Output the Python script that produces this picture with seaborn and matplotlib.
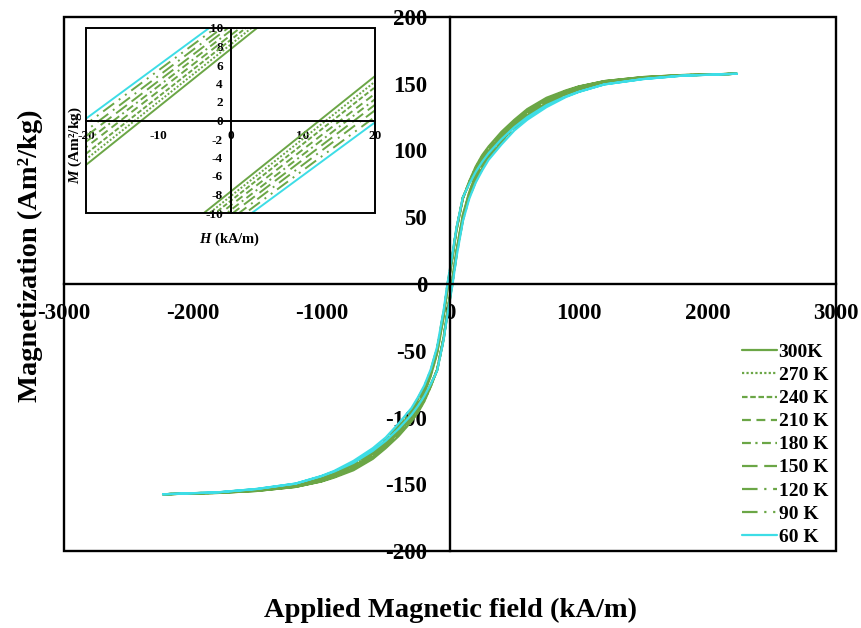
import numpy as np
import pandas as pd
import matplotlib
matplotlib.use("Agg")
import matplotlib.pyplot as plt
from matplotlib.patches import Rectangle
import seaborn as sns

# ---------------- data ----------------
temps = ["300K", "270 K", "240 K", "210 K", "180 K", "150 K", "120 K", "90 K", "60 K"]
H_pos = [0, 20, 50, 100, 150, 200, 250, 300, 400, 500, 600, 750, 900, 1000, 1200, 1500, 1800, 2230]

# descending (upper) branch, H >= 0
up_300 = [7.7, 20.2, 40.0, 64.0, 77.0, 88.0, 96.5, 103.0, 114.0, 123.0, 131.0, 139.5, 145.0, 148.0, 152.0, 155.0, 156.5, 157.5]
up_270 = [8.2, 20.6, 40.3, 64.1, 76.8, 87.5, 95.9, 102.4, 113.3, 122.3, 130.3, 138.8, 144.4, 147.5, 151.7, 154.8, 156.4, 157.5]
up_240 = [8.7, 21.0, 40.5, 64.3, 76.5, 87.0, 95.3, 101.8, 112.6, 121.6, 129.5, 138.1, 143.9, 147.0, 151.4, 154.6, 156.4, 157.5]
up_210 = [9.2, 21.3, 40.8, 64.4, 76.3, 86.5, 94.6, 101.1, 111.9, 120.9, 128.8, 137.4, 143.3, 146.5, 151.1, 154.4, 156.3, 157.5]
up_180 = [9.7, 21.7, 41.0, 64.5, 76.0, 86.0, 94.0, 100.5, 111.3, 120.3, 128.0, 136.8, 142.8, 146.0, 150.8, 154.3, 156.3, 157.5]
up_150 = [10.2, 22.1, 41.3, 64.6, 75.8, 85.5, 93.4, 99.9, 110.6, 119.6, 127.3, 136.1, 142.2, 145.5, 150.4, 154.1, 156.2, 157.5]
up_120 = [10.7, 22.5, 41.5, 64.8, 75.5, 85.0, 92.8, 99.3, 109.9, 118.9, 126.5, 135.4, 141.6, 145.0, 150.1, 153.9, 156.1, 157.5]
up_90 = [11.2, 22.8, 41.8, 64.9, 75.3, 84.5, 92.1, 98.6, 109.2, 118.2, 125.8, 134.7, 141.1, 144.5, 149.8, 153.7, 156.1, 157.5]
up_60 = [11.7, 23.2, 42.0, 65.0, 75.0, 84.0, 91.5, 98.0, 108.5, 117.5, 125.0, 134.0, 140.5, 144.0, 149.5, 153.5, 156.0, 157.5]

# ascending (lower) branch, H >= 0
lo_300 = [-7.7, 4.8, 25.0, 52.0, 69.0, 82.0, 91.5, 99.0, 111.0, 121.0, 129.5, 138.5, 144.5, 147.8, 152.0, 155.0, 156.5, 157.5]
lo_270 = [-8.2, 4.2, 24.4, 51.4, 68.4, 81.3, 90.7, 98.3, 110.2, 120.3, 128.7, 137.8, 143.9, 147.3, 151.7, 154.8, 156.4, 157.5]
lo_240 = [-8.7, 3.6, 23.8, 50.8, 67.8, 80.5, 89.9, 97.5, 109.4, 119.5, 127.9, 137.0, 143.4, 146.8, 151.4, 154.6, 156.4, 157.5]
lo_210 = [-9.2, 2.9, 23.1, 50.1, 67.1, 79.8, 89.1, 96.8, 108.6, 118.8, 127.1, 136.3, 142.8, 146.3, 151.1, 154.4, 156.3, 157.5]
lo_180 = [-9.7, 2.3, 22.5, 49.5, 66.5, 79.0, 88.3, 96.0, 107.8, 118.0, 126.3, 135.5, 142.3, 145.8, 150.8, 154.3, 156.3, 157.5]
lo_150 = [-10.2, 1.7, 21.9, 48.9, 65.9, 78.3, 87.4, 95.3, 106.9, 117.3, 125.4, 134.8, 141.7, 145.3, 150.4, 154.1, 156.2, 157.5]
lo_120 = [-10.7, 1.1, 21.3, 48.3, 65.3, 77.5, 86.6, 94.5, 106.1, 116.5, 124.6, 134.0, 141.1, 144.8, 150.1, 153.9, 156.1, 157.5]
lo_90 = [-11.2, 0.4, 20.6, 47.6, 64.6, 76.8, 85.8, 93.8, 105.3, 115.8, 123.8, 133.3, 140.6, 144.3, 149.8, 153.7, 156.1, 157.5]
lo_60 = [-11.7, -0.2, 20.0, 47.0, 64.0, 76.0, 85.0, 93.0, 104.5, 115.0, 123.0, 132.5, 140.0, 143.8, 149.5, 153.5, 156.0, 157.5]

uppers = [up_300, up_270, up_240, up_210, up_180, up_150, up_120, up_90, up_60]
lowers = [lo_300, lo_270, lo_240, lo_210, lo_180, lo_150, lo_120, lo_90, lo_60]

x_ticks = [-3000, -2000, -1000, 0, 1000, 2000, 3000]
y_ticks = [-200, -150, -100, -50, 0, 50, 100, 150, 200]
ix_ticks = [-20, -10, 0, 10, 20]
iy_ticks = [-10, -8, -6, -4, -2, 0, 2, 4, 6, 8, 10]

# ---------------- styles ----------------
green = "#6BA646"
cyan = "#3DDDE6"
colors = [green] * 8 + [cyan]
styles = ["-", (0, (1, 1)), (0, (2.5, 1.2)), (0, (4, 2.5)), (0, (4, 2, 1, 2)),
          (0, (7, 3)), (0, (7, 3, 1, 3)), (0, (7, 3, 1, 3, 1, 3)), "-"]


def loop_frame(up, lo, label):
    hp = np.array(H_pos, float)
    up = np.array(up, float)
    lo = np.array(lo, float)
    # descending branch: +Hmax -> -Hmax (negative side via loop symmetry)
    h_desc = np.concatenate([hp[::-1], -hp[1:]])
    m_desc = np.concatenate([up[::-1], -lo[1:]])
    # ascending branch: -Hmax -> +Hmax
    h_asc = np.concatenate([-hp[::-1], hp[1:]])
    m_asc = np.concatenate([-up[::-1], lo[1:]])
    h = np.concatenate([h_desc, h_asc[1:]])
    m = np.concatenate([m_desc, m_asc[1:]])
    return pd.DataFrame({"H": h, "M": m, "T": label})


frames = [loop_frame(u, l, t) for u, l, t in zip(uppers, lowers, temps)]

sns.set_style("white")
plt.rcParams["font.family"] = ["Liberation Serif", "DejaVu Serif"]
plt.rcParams["font.weight"] = "bold"
plt.rcParams["text.color"] = "black"
plt.rcParams["axes.labelcolor"] = "black"
plt.rcParams["xtick.color"] = "black"
plt.rcParams["ytick.color"] = "black"
plt.rcParams["mathtext.fontset"] = "custom"
plt.rcParams["mathtext.it"] = "Liberation Serif:italic:bold"
plt.rcParams["mathtext.rm"] = "Liberation Serif:bold"

fig = plt.figure(figsize=(8.61, 6.28), dpi=100)
ax = fig.add_axes([64 / 861, 1 - 551 / 628, (836 - 64) / 861, (551 - 17) / 628])


def style_centered(a, xt, yt, fs, tlen, lw, xpad, ypad):
    for s in ["top", "right"]:
        a.spines[s].set_visible(False)
    a.spines["left"].set_position("zero")
    a.spines["bottom"].set_position("zero")
    for s in ["left", "bottom"]:
        a.spines[s].set_linewidth(lw)
        a.spines[s].set_color("black")
    a.add_patch(Rectangle((0, 0), 1, 1, transform=a.transAxes, fill=False,
                          lw=lw, edgecolor="black", clip_on=False, zorder=5))
    a.set_xticks(xt)
    a.set_yticks(yt)
    a.set_xticklabels([str(v) for v in xt])
    a.set_yticklabels([str(v) for v in yt])
    a.tick_params(axis="both", direction="inout", length=tlen, width=lw,
                  labelsize=fs, colors="black")
    a.tick_params(axis="x", pad=xpad)
    a.tick_params(axis="y", pad=ypad)
    for lab in a.get_xticklabels() + a.get_yticklabels():
        lab.set_fontweight("bold")
        lab.set_color("black")


for df, c, ls, t in zip(frames, colors, styles, temps):
    sns.lineplot(data=df, x="H", y="M", sort=False, estimator=None, ax=ax,
                 color=c, linestyle=ls, lw=1.6, label=t)

ax.set_xlim(-3000, 3000)
ax.set_ylim(-200, 200)
ax.set_xlabel("")
ax.set_ylabel("")
style_centered(ax, x_ticks, y_ticks, 16.5, 11, 1.7, 8, 11)

leg = ax.legend(loc="upper left", bbox_to_anchor=(728 / 861, 1 - 330 / 628),
                bbox_transform=fig.transFigure, frameon=False, fontsize=14,
                handlelength=1.8, handletextpad=0.1, labelspacing=0.28,
                borderpad=0.2)
for txt in leg.get_texts():
    txt.set_fontweight("bold")
    txt.set_color("black")

fig.text(451 / 861, 1 - 610 / 628, "Applied Magnetic field (kA/m)", ha="center",
         va="center", fontsize=20.5, fontweight="bold", color="black")
fig.text(30 / 861, 1 - 256 / 628, "Magnetization (Am²/kg)", ha="center",
         va="center", rotation=90, fontsize=20.5, fontweight="bold", color="black")

# ---------------- inset ----------------
axi = fig.add_axes([86 / 861, 1 - 213 / 628, (375 - 86) / 861, (213 - 28) / 628])
axi.set_facecolor("white")
for df, c, ls, t in zip(frames, colors, styles, temps):
    sns.lineplot(data=df, x="H", y="M", sort=False, estimator=None, ax=axi,
                 color=c, linestyle=ls, lw=1.4, legend=False)
axi.set_xlim(-20, 20)
axi.set_ylim(-10, 10)
axi.set_xlabel("")
axi.set_ylabel("")
style_centered(axi, ix_ticks, iy_ticks, 9.5, 7, 1.4, 3, 2)

fig.text(230 / 861, 1 - 239 / 628, r"$H$ (kA/m)", ha="center", va="center",
         fontsize=10.5, fontweight="bold", color="black")
fig.text(75 / 861, 1 - 145 / 628, r"$M$ (Am²/kg)", ha="center", va="center",
         rotation=90, fontsize=11, fontweight="bold", color="black")

fig.savefig("out.png", dpi=100)
